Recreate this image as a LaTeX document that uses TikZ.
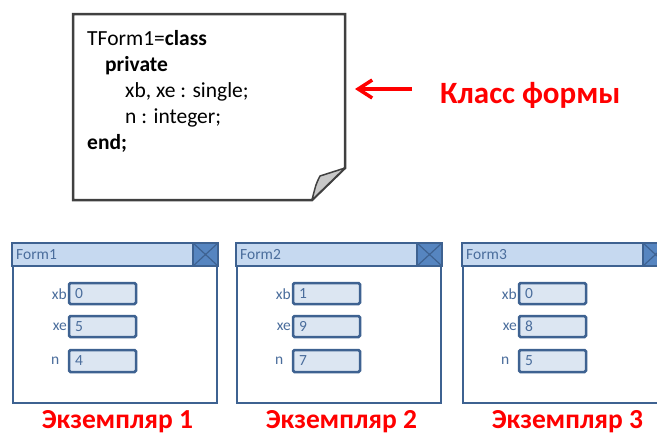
\documentclass[tikz,border=0pt]{standalone}
\usepackage{fontspec}
\setmainfont{Carlito}
\usetikzlibrary{arrows.meta}
\definecolor{frameblue}{HTML}{3E6291}
\definecolor{titlefill}{HTML}{C6D9F0}
\definecolor{closefill}{HTML}{5685C0}
\definecolor{boxfill}{HTML}{DCE6F2}
\definecolor{labblue}{HTML}{4A6D9C}
\definecolor{notegray}{HTML}{404040}
\definecolor{foldgray}{HTML}{C8C8C8}
\definecolor{redtxt}{HTML}{FF0000}
\tikzset{
  codetxt/.style={anchor=base west,inner sep=0pt,font=\fontsize{21.5}{24}\selectfont,text=black},
  formframe/.style={draw=frameblue,line width=2.5pt},
  fieldbox/.style={draw=frameblue,line width=2.5pt,fill=boxfill,rounded corners=1.5pt},
  formtxt/.style={inner sep=0pt,font=\fontsize{15.5}{18}\selectfont,text=labblue},
  redlabel/.style={inner sep=0pt,font=\fontsize{27.5}{32}\selectfont\bfseries,text=redtxt},
  redarrow/.style={draw=redtxt,line width=3.5pt,-{Straight Barb[length=14pt,width=18pt]}}
}
\begin{document}
\begin{tikzpicture}[x=1pt,y=-1pt]
\useasboundingbox (0,0) rectangle (657,437);
\begin{scope}
\clip (0,0) rectangle (657,437);
% note
\draw[notegray,line width=2.5pt,fill=white,line join=miter]
  (73,14) -- (345,14) -- (345,168) -- (312,200) -- (73,200) -- cycle;
\draw[notegray,line width=1.5pt,fill=foldgray,line join=round]
  (345,168) -- (320,176) .. controls (316,184) .. (312,200) -- cycle;
\coordinate (noteeast) at (355,89);
\node[codetxt] (l1) at (87,45) {TForm1=\textbf{class}};
\node[codetxt] (l2) at (105,71) {\textbf{private}};
\node[codetxt] (l3) at (125,97) {xb, xe : single;};
\node[codetxt] (l4) at (125,123) {n : integer;};
\node[codetxt] (l5) at (87,149) {\textbf{end;}};
% label + arrow
\node[redlabel,anchor=base west,font=\fontsize{31}{36}\selectfont\bfseries] (klass) at (440,103) {Класс формы};
\coordinate (arrstart) at (412,89);
\draw[redarrow] (arrstart) -- (noteeast);
% forms
\foreach \i/\dx/\va/\vb/\vc in {1/0/0/5/4,2/224/1/9/7,3/450/0/8/5}{
  \begin{scope}[xshift=\dx pt]
    \draw[formframe,fill=white] (13,266) rectangle (217,403);
    \draw[formframe,fill=titlefill] (12,243) rectangle (218,266);
    \draw[formframe,fill=closefill] (193,243) rectangle (218,266);
    \draw[frameblue,line width=1.2pt] (193,243) -- (218,266) (193,266) -- (218,243);
    \node[formtxt,anchor=west] (title\i) at (16,255) {Form\i};
    \draw[fieldbox] (69,283) rectangle (136,304);
    \draw[fieldbox] (69,316) rectangle (136,337);
    \draw[fieldbox] (69,350) rectangle (136,372);
    \node[formtxt,anchor=east] (lxb\i) at (67,294) {xb};
    \node[formtxt,anchor=east] (lxe\i) at (67,326.5) {xe};
    \node[formtxt,anchor=west] (ln\i) at (51,361) {n};
    \node[formtxt,anchor=west] (vxb\i) at (75,294) {\va};
    \node[formtxt,anchor=west] (vxe\i) at (75,326.5) {\vb};
    \node[formtxt,anchor=west] (vn\i) at (75,361) {\vc};
    \node[redlabel,anchor=base] (inst\i) at (117.5,428.5) {Экземпляр \i};
  \end{scope}
}
\end{scope}
\end{tikzpicture}
\end{document}
